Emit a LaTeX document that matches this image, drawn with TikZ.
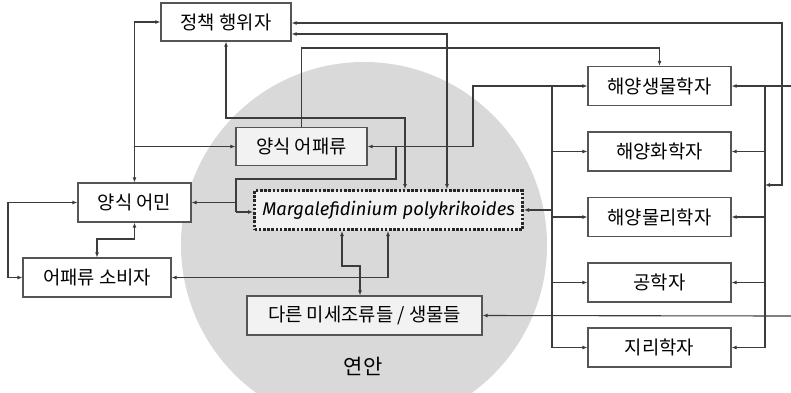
\documentclass[tikz,border=0pt]{standalone}
\usepackage{fontspec}
\setmainfont{Noto Sans CJK KR}
\newfontfamily\mpfont{Fira Sans}
\usetikzlibrary{arrows.meta}
\definecolor{circ}{HTML}{D9D9D9}
\definecolor{boxin}{HTML}{F2F2F2}
\definecolor{ln}{HTML}{3C3C3C}
\definecolor{bd}{HTML}{555555}
\begin{document}
\begin{tikzpicture}[x=1pt,y=-1pt,
  box/.style={draw=bd, line width=1.2pt, fill=white, inner sep=0pt,
    font=\fontsize{18.8}{22}\selectfont},
  ibox/.style={box, fill=boxin},
  dotbox/.style={ibox, draw=black!85, line width=3pt, dash pattern=on 2.6pt off 1.6pt},
  con/.style={draw=ln, line width=1.1pt},
  arr/.style={-{Latex[length=5pt,width=4pt]}},
  darr/.style={{Latex[length=5pt,width=4pt]}-{Latex[length=5pt,width=4pt]}},
]
\useasboundingbox (0,0) rectangle (791,392);
\begin{scope}
\clip (0,0) rectangle (791,392);
\fill[circ] (364,245) circle[radius=183];
\end{scope}
\node (lbl) at (363,366) {\fontsize{21}{24}\selectfont 연안};

% nodes
\node[box, minimum width=130pt, minimum height=38pt] (pol) at (226,22) {정책 행위자};
\node[ibox, minimum width=131pt, minimum height=38pt] (fish) at (301.5,146.5) {양식 어패류};
\node[box, minimum width=113pt, minimum height=39pt] (farm) at (134.5,202.5) {양식 어민};
\node[box, minimum width=148pt, minimum height=39pt] (cons) at (97,277.5) {어패류 소비자};
\node[dotbox, minimum width=268pt, minimum height=39pt] (mp) at (388.5,210) {\mpfont\itshape\fontsize{18.4}{21}\selectfont Margalefidinium polykrikoides};
\node[ibox, minimum width=235pt, minimum height=39pt] (oth) at (364.5,315.5) {다른 미세조류들 / 생물들};
\node[box, minimum width=143pt, minimum height=39pt] (bio) at (659.5,86) {해양생물학자};
\node[box, minimum width=143pt, minimum height=39pt] (chem) at (659.5,151.5) {해양화학자};
\node[box, minimum width=143pt, minimum height=39pt] (phys) at (659.5,217) {해양물리학자};
\node[box, minimum width=143pt, minimum height=39pt] (eng) at (659.5,282.5) {공학자};
\node[box, minimum width=143pt, minimum height=39pt] (geo) at (659.5,347.5) {지리학자};

% connectors
\draw[con,darr] (farm.north) |- (pol.west);
\draw[con,arr] (farm.north |- fish.west) -- (fish.west);
\draw[con,darr] (pol.south) -- (pol.south |- 0,118) -- (405,118) -- (mp.north -| 405,0);
\draw[con,darr] (pol.east |- 0,34) -| (mp.north -| 447,0);
\draw[con,darr] (pol.east |- 0,23) -- (782,23) -- (782,185) -- (765,185);
\draw[con,arr] (fish.north) |- (bio.north |- 0,48) -- (bio.north);

% left bus
\draw[con] (bio.west -| 552,0) -- (geo.west -| 552,0);
\foreach \n in {bio,chem,phys,eng,geo}{
  \draw[con,arr] (\n.west -| 552,0) -- (\n.west);
  \draw[con,arr] (\n.east -| 765,0) -- (\n.east);
}
\draw[con,arr] (bio.west -| 552,0) -- (bio.west -| 473,0) -- (fish.east -| 473,0) -- (fish.east);
\draw[con,arr] (mp.east -| 552,0) -- (mp.east);

% right bus
\draw[con] (791,86) -- (bio.east -| 765,0) -- (geo.east -| 765,0);
\draw[con,arr] (791,316) -- (oth.east);

% fish to farm and mp
\draw[con] (fish.east -| 396,0) -- (396,179) -- (236,179) -- (236,212);
\draw[con,arr] (236,212) -- (mp.west |- 0,212);
\draw[con,arr] (236,0 |- farm.east) -- (farm.east);

% farm - consumers
\draw[con,darr] (farm.south) -- (farm.south |- 0,239) -| (cons.north);
\draw[con,darr] (farm.west) -- (farm.west -| 8,0) |- (cons.west);

% mp - others, mp - consumers
\draw[con,darr] (mp.south -| 342,0) -- (342,266) -- (360,266) -- (oth.north -| 360,0);
\draw[con,darr] (mp.south -| 388,0) |- (cons.east);
\end{tikzpicture}
\end{document}
